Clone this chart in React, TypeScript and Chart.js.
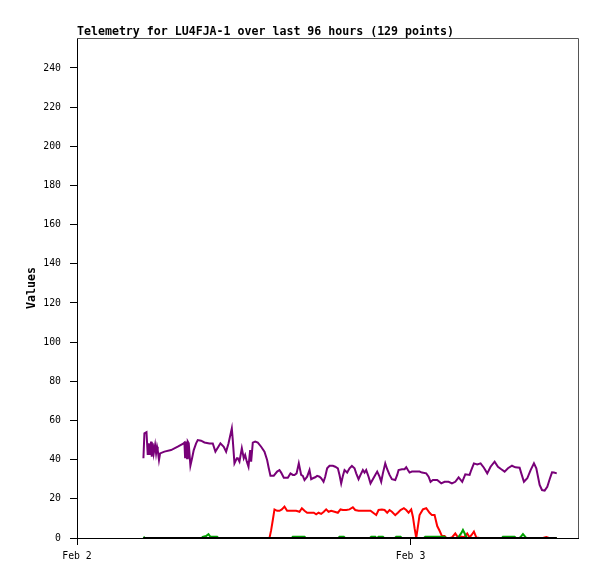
import React, { useEffect, useRef } from "react";
import { Chart, registerables } from "chart.js";

Chart.register(...registerables);

const TITLE = "Telemetry for LU4FJA-1 over last 96 hours (129 points)";
const Y_LABEL = "Values";
const xTickHours = [0, 24];
const xTickLabels = ["Feb 2", "Feb 3"];
const X_MAX_HOURS = 36.05;
const Y_MAX = 255.3;
const Y_TICK_MAX = 240;

// hours since Feb 2 00:00
const purpleHours = [
  4.78, 4.85, 5.0, 5.09, 5.16, 5.23, 5.33, 5.38, 5.45, 5.52, 5.62, 5.69, 5.76, 5.81, 5.9, 5.98,
  6.29, 6.77, 7.25, 7.61, 7.73, 7.78, 7.85, 7.92, 7.97, 8.04, 8.16, 8.28, 8.4, 8.57, 8.69, 8.93,
  9.17, 9.53, 9.77, 9.96, 10.25, 10.32, 10.56, 10.73, 10.9, 11.14, 11.21, 11.33, 11.5, 11.57,
  11.69, 11.86, 12.0, 12.1, 12.22, 12.34, 12.46, 12.53, 12.65, 12.82, 13.01, 13.25, 13.49, 13.68,
  13.8, 13.92, 14.16, 14.4, 14.57, 14.69, 14.88, 15.17, 15.36, 15.53, 15.65, 15.8, 15.96, 16.13,
  16.25, 16.37, 16.56, 16.73, 16.85, 16.97, 17.14, 17.28, 17.45, 17.57, 17.74, 17.86, 18.0, 18.17,
  18.41, 18.58, 18.77, 18.89, 19.01, 19.13, 19.25, 19.44, 19.61, 19.78, 19.97, 20.09, 20.26, 20.4,
  20.57, 20.69, 20.81, 20.98, 21.12, 21.29, 21.46, 21.6, 21.77, 21.89, 22.01, 22.18, 22.32, 22.49,
  22.66, 22.9, 23.04, 23.14, 23.38, 23.57, 23.69, 23.81, 23.93, 24.1, 24.41, 24.65, 24.82, 25.13,
  25.3, 25.44, 25.61, 25.92, 26.21, 26.45, 26.74, 26.98, 27.22, 27.46, 27.72, 27.94, 28.25, 28.37,
  28.56, 28.8, 29.04, 29.28, 29.52, 29.76, 30.05, 30.29, 30.53, 30.77, 31.01, 31.3, 31.54, 31.85,
  31.97, 32.16, 32.4, 32.64, 32.88, 33.05, 33.29, 33.46, 33.65, 33.84, 34.01, 34.18, 34.32, 34.52,
];
const purpleValues = [
  40.7, 53.4, 54.0, 42.4, 48.3, 42.4, 49.2, 41.5, 48.3, 43.2, 47.5, 43.2, 46.6, 44.9, 39.8, 43.2,
  44.1, 44.9, 46.6, 48.0, 48.7, 40.7, 49.2, 40.7, 49.2, 48.3, 36.9, 40.7, 44.9, 48.3, 50.0, 49.7,
  48.8, 48.3, 48.3, 44.1, 47.5, 48.3, 46.6, 44.1, 48.3, 56.0, 50.0, 38.1, 40.7, 40.7,
  39.0, 45.8, 40.7, 42.4, 39.0, 36.4, 44.9, 39.0, 48.7, 49.2, 48.7, 46.6, 44.1, 39.8,
  35.6, 31.8, 31.8, 33.9, 34.7, 33.4, 30.8, 30.8, 33.0, 32.2, 32.2, 33.0, 38.1, 32.2,
  31.7, 29.6, 31.3, 34.7, 30.0, 30.5, 31.0, 31.7, 31.3, 30.5, 28.7, 31.3, 35.6, 36.9,
  36.9, 36.4, 35.6, 32.2, 27.9, 31.7, 34.7, 33.4, 35.6, 36.8, 35.6, 33.0, 30.0, 32.2,
  34.7, 33.4, 34.7, 31.3, 27.9, 30.0, 32.2, 33.9, 31.3, 28.7, 33.0, 38.1, 35.1, 32.2,
  30.0, 29.6, 32.2, 34.7, 35.1, 35.1, 36.1, 34.7, 33.4, 33.9, 33.9, 33.9, 33.4, 33.0,
  31.3, 28.7, 29.6, 29.6, 27.9, 28.7, 28.7, 27.9, 28.7, 31.0, 28.7, 32.5, 32.2, 34.7,
  38.1, 37.6, 38.1, 35.9, 33.0, 36.4, 39.0, 36.4, 35.1, 33.9, 35.6, 36.9, 36.1, 35.9,
  33.0, 28.7, 30.5, 34.7, 38.1, 35.6, 27.1, 24.5, 24.2, 26.2, 30.0, 33.5, 33.4, 33.0,
];

const redHours = [
  4.78, 13.85, 13.97, 14.09, 14.21, 14.4, 14.57, 14.74, 14.93, 15.12, 15.29, 15.53, 15.77, 16.01,
  16.18, 16.37, 16.56, 16.8, 17.04, 17.21, 17.38, 17.57, 17.76, 17.93, 18.1, 18.29, 18.53, 18.77,
  18.96, 19.13, 19.37, 19.61, 19.85, 20.02, 20.26, 20.57, 20.93, 21.12, 21.36, 21.53, 21.7, 21.94,
  22.13, 22.32, 22.49, 22.66, 22.9, 23.09, 23.28, 23.52, 23.69, 23.86, 24.05, 24.17, 24.29, 24.41,
  24.53, 24.65, 24.89, 25.13, 25.37, 25.54, 25.73, 25.92, 26.09, 26.26, 26.45, 26.57, 26.81, 26.98,
  27.22, 27.41, 27.65, 27.84, 28.08, 28.25, 28.42, 28.56, 28.73, 28.97, 33.53, 33.77, 33.96, 34.52,
];
const redValues = [
  0, 0, 4.0, 9.2, 14.6, 13.9, 13.9, 14.6, 16.0, 13.9, 13.9, 13.9, 13.9, 13.4,
  15.2, 13.9, 12.9, 12.9, 12.9, 12.1, 12.9, 12.3, 13.4, 14.6, 13.4, 13.9, 13.4, 12.9,
  14.6, 14.3, 14.3, 14.6, 15.7, 14.3, 13.9, 13.9, 13.9, 13.9, 12.6, 11.7, 14.3, 14.6,
  14.3, 12.9, 14.3, 13.4, 11.7, 12.9, 14.3, 15.2, 14.3, 12.9, 14.6, 10.9, 5.0, 0,
  5.8, 11.7, 14.6, 15.2, 12.9, 11.7, 11.7, 6.1, 3.7, 1.0, 1.0, 0, 0, 0.3,
  2.3, 0.3, 0.8, 0.3, 2.3, 0.3, 1.8, 3.3, 0.3, 0, 0, 0.5, 0, 0,
];

const greenHours = [
  4.78, 4.87, 8.98, 9.05, 9.29, 9.46, 9.6, 10.08, 10.17, 15.46, 15.53, 16.37, 16.47, 18.81, 18.89,
  19.2, 19.3, 21.07, 21.17, 21.46, 21.54, 21.61, 21.7, 22.01, 22.1, 22.87, 22.97, 23.28, 23.38,
  24.96, 25.06, 26.45, 26.55, 27.37, 27.46, 27.65, 27.77, 27.89, 28.01, 28.09, 30.58, 30.65, 31.49,
  31.59, 31.84, 31.93, 32.09, 32.26, 32.34, 34.52,
];
const greenValues = [
  0.6, 0, 0, 0.6, 1.0, 2.0, 0.6, 0.6, 0, 0, 0.6, 0.6, 0, 0, 0.6,
  0.6, 0, 0, 0.6, 0.6, 0, 0, 0.6, 0.6, 0, 0, 0.6, 0.6, 0,
  0, 0.6, 0.6, 0, 0, 0.6, 2.5, 4.1, 2.4, 0.6, 0, 0, 0.6, 0.6,
  0, 0, 0.6, 2.0, 0.6, 0, 0,
];

const blackHours = [4.78, 34.52];
const blackValues = [0, 0];

const toPoints = (xs: number[], ys: number[]) => xs.map((x, i) => ({ x, y: ys[i] }));

const MONO = "'DejaVu Sans Mono', monospace";

export default function App() {
  const ref = useRef<HTMLCanvasElement | null>(null);

  useEffect(() => {
    if (!ref.current) return;
    const framePlugin = {
      id: "frameAndTitle",
      afterDraw(chart: any) {
        const { ctx, chartArea } = chart;
        ctx.save();
        ctx.strokeStyle = "#555555";
        ctx.lineWidth = 1;
        ctx.beginPath();
        ctx.moveTo(chartArea.left, chartArea.top + 0.5);
        ctx.lineTo(chartArea.right + 0.5, chartArea.top + 0.5);
        ctx.lineTo(chartArea.right + 0.5, chartArea.bottom);
        ctx.stroke();
        ctx.fillStyle = "#000";
        ctx.font = `bold 11.6px ${MONO}`;
        ctx.textBaseline = "alphabetic";
        ctx.textAlign = "left";
        ctx.fillText(TITLE, chartArea.left, 35);
        ctx.restore();
      },
    };

    const chart = new Chart(ref.current, {
      type: "line",
      data: {
        datasets: [
          {
            label: "black",
            data: toPoints(blackHours, blackValues),
            borderColor: "#000000",
            borderWidth: 2,
            order: 0,
          },
          {
            label: "green",
            data: toPoints(greenHours, greenValues),
            borderColor: "#00a000",
            borderWidth: 2,
            order: 1,
          },
          {
            label: "red",
            data: toPoints(redHours, redValues),
            borderColor: "#ff0000",
            borderWidth: 2,
            order: 2,
          },
          {
            label: "purple",
            data: toPoints(purpleHours, purpleValues),
            borderColor: "#780078",
            borderWidth: 2,
            order: 3,
          },
        ],
      },
      options: {
        animation: false,
        responsive: false,
        maintainAspectRatio: false,
        elements: {
          point: { radius: 0, hoverRadius: 0 },
          line: { tension: 0, fill: false },
        },
        layout: { padding: { top: 38, right: 19, left: 0, bottom: 0 } },
        plugins: {
          legend: { display: false },
          tooltip: { enabled: false },
          title: { display: false },
        },
        scales: {
          x: {
            type: "linear",
            min: 0,
            max: X_MAX_HOURS,
            afterBuildTicks: (s: any) => {
              s.ticks = xTickHours.map((v) => ({ value: v }));
            },
            afterFit: (s: any) => {
              s.height = 41;
            },
            ticks: {
              autoSkip: false,
              maxRotation: 0,
              padding: 6,
              color: "#000",
              font: { family: MONO, size: 9.8 },
              callback: (v: any) => {
                const i = xTickHours.indexOf(Number(v));
                return i >= 0 ? xTickLabels[i] : "";
              },
            },
            grid: {
              drawOnChartArea: false,
              drawTicks: true,
              tickLength: 7,
              color: "#000",
            },
            border: { color: "#000", width: 1 },
          },
          y: {
            type: "linear",
            min: 0,
            max: Y_MAX,
            afterBuildTicks: (s: any) => {
              s.ticks = s.ticks.filter((t: any) => t.value <= Y_TICK_MAX && t.value % 20 === 0);
            },
            afterFit: (s: any) => {
              s.width = 77;
            },
            ticks: {
              stepSize: 20,
              padding: 9,
              color: "#000",
              font: { family: MONO, size: 9.8 },
            },
            grid: {
              drawOnChartArea: false,
              drawTicks: true,
              tickLength: 7,
              color: "#000",
            },
            border: { color: "#000", width: 1 },
            title: {
              display: true,
              text: Y_LABEL,
              color: "#000",
              font: { family: MONO, size: 11.6, weight: "bold" },
              padding: { top: 25, bottom: 0 },
            },
          },
        },
      },
      plugins: [framePlugin],
    } as any);

    return () => chart.destroy();
  }, []);

  return (
    <div style={{ position: "absolute", left: 0, top: 0, width: 597, height: 579, background: "#fff" }}>
      <canvas ref={ref} width={597} height={579} />
    </div>
  );
}
